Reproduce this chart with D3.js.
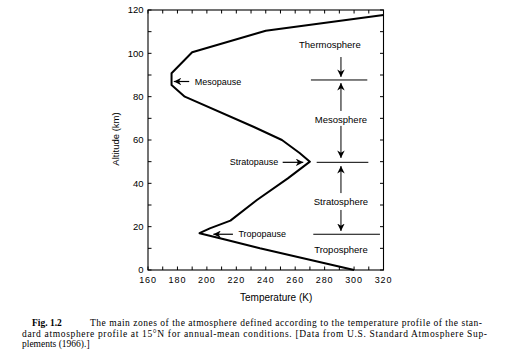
<!DOCTYPE html>
<html><head><meta charset="utf-8">
<script src="https://cdn.jsdelivr.net/npm/d3@7"></script>
<style>body{margin:0;background:#fff}svg{display:block}</style>
</head><body><svg id="c" width="506" height="360"></svg>
<script>
// Temperature profile (K) vs altitude (km)
const temperature = [300, 236, 213, 195, 202, 216, 234, 255, 270, 263, 251, 232, 185, 176, 176, 190, 240, 320];
const altitude    = [0,   10,  14,  17,  19.2, 22.8, 32.3, 42.3, 50, 54, 60, 66, 80, 85.4, 90.8, 100.5, 110.4, 117.7];
const xTicks = [160, 180, 200, 220, 240, 260, 280, 300, 320];
const yTicks = [0, 20, 40, 60, 80, 100, 120];
// pause annotations: label, arrow tail T, arrow tip T, altitude
const pauseNames = ["Mesopause", "Stratopause", "Tropopause"];
const pauseTail  = [188, 251.5, 217.7];
const pauseTip   = [177.5, 265.5, 204.4];
const pauseAlt   = [87, 49.7, 16.5];
const pauseSide  = ["right", "left", "right"];
// zone boundaries
const boundAlt  = [87.7, 49.7, 16.5];
const boundFrom = [270.7, 274.6, 272.3];
const boundTo   = [309, 309.7, 317.6];
// zone labels
const zoneNames = ["Thermosphere", "Mesosphere", "Stratosphere", "Troposphere"];
const zoneT     = [283.6, 291.1, 291.1, 291.1];
const zoneAlt   = [104, 69.5, 31.4, 9.2];
// vertical arrows: tail alt, tip alt
const arrowT = 291.1;
const vTail = [98.3, 73.4, 66.5, 35.5, 27.7];
const vTip  = [89.1, 86.3, 51.7, 48, 18];

const svg = d3.select("#c");
const x = d3.scaleLinear().domain([160, 320]).range([148, 383.5]);
const y = d3.scaleLinear().domain([0, 120]).range([270, 10]);
const sans = "'Liberation Sans', Arial, Helvetica, sans-serif";

svg.append("defs").append("marker")
  .attr("id", "ah").attr("viewBox", "0 0 10 10").attr("refX", 10).attr("refY", 5)
  .attr("markerWidth", 7.5).attr("markerHeight", 7.5).attr("markerUnits", "userSpaceOnUse")
  .attr("orient", "auto")
  .append("path").attr("d", "M0,0 L10,5 L0,10 L3,5 Z").attr("fill", "#000");

// frame
svg.append("rect").attr("x", x(160)).attr("y", y(120))
  .attr("width", x(320) - x(160)).attr("height", y(0) - y(120))
  .attr("fill", "none").attr("stroke", "#000").attr("stroke-width", 1.1);

// ticks every 10 (inward)
const minorX = d3.range(160, 321, 10);
const minorY = d3.range(0, 121, 10);
const tl = 3.5;
const tg = svg.append("g").attr("stroke", "#000").attr("stroke-width", 1);
minorX.forEach(v => {
  tg.append("line").attr("x1", x(v)).attr("x2", x(v)).attr("y1", y(0)).attr("y2", y(0) - tl);
  tg.append("line").attr("x1", x(v)).attr("x2", x(v)).attr("y1", y(120)).attr("y2", y(120) + tl);
});
minorY.forEach(v => {
  tg.append("line").attr("y1", y(v)).attr("y2", y(v)).attr("x1", x(160)).attr("x2", x(160) + tl);
  tg.append("line").attr("y1", y(v)).attr("y2", y(v)).attr("x1", x(320)).attr("x2", x(320) - tl);
});

// tick labels
svg.append("g").selectAll("text").data(xTicks).join("text")
  .attr("x", d => x(d)).attr("y", 282.5).attr("text-anchor", "middle")
  .attr("font-family", sans).attr("font-size", 9).attr("letter-spacing", 0.9)
  .text(d => d);
svg.append("g").selectAll("text").data(yTicks).join("text")
  .attr("x", 143.5).attr("y", d => y(d)).attr("dy", "0.35em").attr("text-anchor", "end")
  .attr("font-family", sans).attr("font-size", 9.5)
  .text(d => d);

// axis titles
svg.append("text").attr("x", 240).attr("y", 301).attr("font-family", sans).attr("font-size", 10)
  .text("Temperature (K)");
svg.append("text").attr("transform", "translate(118.5,139) rotate(-90)").attr("text-anchor", "middle")
  .attr("font-family", sans).attr("font-size", 9.5).text("Altitude (km)");

// profile
const pts = temperature.map((t, i) => [t, altitude[i]]);
svg.append("path").datum(pts)
  .attr("d", d3.line().x(d => x(d[0])).y(d => y(d[1])))
  .attr("fill", "none").attr("stroke", "#000").attr("stroke-width", 2).attr("stroke-linejoin", "round");

// pause annotations
pauseNames.forEach((n, i) => {
  svg.append("line").attr("x1", x(pauseTail[i])).attr("x2", x(pauseTip[i]))
    .attr("y1", y(pauseAlt[i])).attr("y2", y(pauseAlt[i]))
    .attr("stroke", "#000").attr("stroke-width", 1.2).attr("marker-end", "url(#ah)");
  const right = pauseSide[i] === "right";
  svg.append("text").attr("x", x(pauseTail[i]) + (right ? 5.5 : -4.5)).attr("y", y(pauseAlt[i]))
    .attr("dy", "0.35em").attr("text-anchor", right ? "start" : "end")
    .attr("font-family", sans).attr("font-size", 9).text(n);
});

// zone boundaries
boundAlt.forEach((a, i) => {
  svg.append("line").attr("x1", x(boundFrom[i])).attr("x2", x(boundTo[i]))
    .attr("y1", y(a)).attr("y2", y(a)).attr("stroke", "#000").attr("stroke-width", 1);
});
// vertical arrows
vTail.forEach((t, i) => {
  svg.append("line").attr("x1", x(arrowT)).attr("x2", x(arrowT))
    .attr("y1", y(t)).attr("y2", y(vTip[i]))
    .attr("stroke", "#000").attr("stroke-width", 1).attr("marker-end", "url(#ah)");
});
// zone labels
zoneNames.forEach((n, i) => {
  svg.append("text").attr("x", x(zoneT[i])).attr("y", y(zoneAlt[i])).attr("dy", "0.35em")
    .attr("text-anchor", "middle").attr("font-family", sans).attr("font-size", 9.5).text(n);
});

// caption
const serif = "'Liberation Serif', 'Times New Roman', serif";
svg.append("text").attr("x", 32).attr("y", 326).attr("font-family", serif).attr("font-size", 9.5)
  .attr("font-weight", "bold").text("Fig. 1.2");
svg.append("text").attr("x", 90).attr("y", 326).attr("font-family", serif).attr("font-size", 9.5)
  .attr("textLength", 392).attr("lengthAdjust", "spacing")
  .text("The main zones of the atmosphere defined according to the temperature profile of the stan-");
svg.append("text").attr("x", 22).attr("y", 336.5).attr("font-family", serif).attr("font-size", 9.5)
  .attr("textLength", 465).attr("lengthAdjust", "spacing")
  .text("dard atmosphere profile at 15°N for annual-mean conditions. [Data from U.S. Standard Atmosphere Sup-");
svg.append("text").attr("x", 22).attr("y", 347).attr("font-family", serif).attr("font-size", 9.5)
  .text("plements (1966).]");
</script></body></html>
